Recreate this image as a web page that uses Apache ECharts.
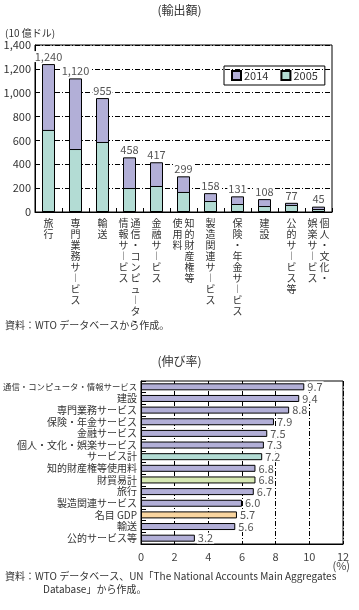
<!DOCTYPE html>
<html><head><meta charset="utf-8">
<script src="https://cdn.jsdelivr.net/npm/echarts@6/dist/echarts.min.js"></script>
<style>html,body{margin:0;padding:0;background:#fff}#c{width:359px;height:610px}</style>
</head><body><div id="c"></div>
<script>
// ---- Data: exports (billion USD) ----
const exportCategories = ["旅行","専門業務サービス","輸送","通信・コンピュータ・情報サービス","金融サービス","知的財産権等使用料","製造関連サービス","保険・年金サービス","建設","公的サービス等","個人・文化・娯楽サービス"];
const exports2014 = [1240,1120,955,458,417,299,158,131,108,77,45];
const exports2005 = [688,528,587,201,218,168,92,67,50,59,25];
const exportTicks = [0,200,400,600,800,1000,1200,1400];
// column splits for two-column vertical labels (right column first)
const labelSplits = {"通信・コンピュータ・情報サービス":10,"知的財産権等使用料":6,"個人・文化・娯楽サービス":6};

// ---- Data: growth rate (%) ----
const growthCategories = ["通信・コンピュータ・情報サービス","建設","専門業務サービス","保険・年金サービス","金融サービス","個人・文化・娯楽サービス","サービス計","知的財産権等使用料","財貿易計","旅行","製造関連サービス","名目 GDP","輸送","公的サービス等"];
const growthValues = [9.7,9.4,8.8,7.9,7.5,7.3,7.2,6.8,6.8,6.7,6.0,5.7,5.6,3.2];
const growthTicks = [0,2,4,6,8,10,12];

const C14 = '#b2afd7', C05 = '#b3dcd4', CSV = '#b3dcd4', CGOODS = '#d7e9b4', CGDP = '#f9d59f';
const FF = '"Noto Sans CJK JP","Noto Sans",sans-serif';
const growthColors = growthCategories.map(c => c === 'サービス計' ? CSV : c === '財貿易計' ? CGOODS : c === '名目 GDP' ? CGDP : C14);
const dashDot = [5,2,1,2];

function vert(s){ return s.replace(/ー/g,'︱'); }
function verticalLabel(name){
  const sp = labelSplits[name];
  if (sp === undefined) return Array.from(vert(name)).join('\n');
  const right = Array.from(vert(name.slice(0,sp)));
  const left = Array.from(vert(name.slice(sp)));
  const n = Math.max(right.length,left.length);
  const lines = [];
  for (let i=0;i<n;i++) lines.push((left[i]||'　') + ' ' + (right[i]||'　'));
  return lines.join('\n');
}

const chart = echarts.init(document.getElementById('c'));
chart.setOption({
  animation:false,
  textStyle:{fontFamily:FF},
  grid:[
    {left:35,right:27,top:45,height:167,show:true,borderColor:'#000',borderWidth:1,containLabel:false,outerBoundsMode:'none'},
    {left:141,right:16,top:381,height:163,show:true,borderColor:'#000',borderWidth:1,containLabel:false,outerBoundsMode:'none'}
  ],
  legend:{
    left:224,top:66,
    data:['2014','2005'],orient:'horizontal',
    borderColor:'#000',borderWidth:1,padding:[4,7],itemGap:12,
    icon:'rect',itemWidth:9,itemHeight:9,
    textStyle:{fontSize:11,color:'#333',fontFamily:FF,padding:[0,0,0,-2]}
  },
  xAxis:[
    {type:'category',gridIndex:0,data:exportCategories,
     axisLine:{lineStyle:{color:'#000'}},
     axisTick:{show:true,inside:true,length:4,lineStyle:{color:'#000'}},
     axisLabel:{interval:0,formatter:verticalLabel,fontSize:10,lineHeight:11,color:'#333',margin:6,verticalAlign:'top',fontFamily:FF}},
    {type:'value',gridIndex:1,min:0,max:12,interval:2,
     axisLine:{show:true,lineStyle:{color:'#000'}},axisTick:{show:false},
     splitLine:{show:true,lineStyle:{color:'#000',type:dashDot}},
     axisLabel:{fontSize:11,color:'#444',margin:7,fontFamily:FF,
       formatter:v=>growthTicks.includes(v)?String(v):''}}
  ],
  yAxis:[
    {type:'value',gridIndex:0,min:0,max:1400,interval:200,
     axisLine:{show:true,lineStyle:{color:'#000'}},axisTick:{show:false},
     splitLine:{show:true,lineStyle:{color:'#000',type:dashDot}},
     axisLabel:{fontSize:11,color:'#333',margin:4,fontFamily:FF,
       formatter:v=>exportTicks.includes(v)?v.toLocaleString('en-US'):''}},
    {type:'category',gridIndex:1,data:growthCategories,inverse:true,
     axisLine:{lineStyle:{color:'#000'}},
     axisTick:{show:true,inside:true,length:5,lineStyle:{color:'#000'}},
     axisLabel:{interval:0,fontSize:10,color:'#333',margin:4,fontFamily:FF,
       formatter:v=>v.length>12?'{s|'+v+'}':v,
       rich:{s:{fontSize:8.4,color:'#333',fontFamily:FF}}}}
  ],
  series:[
    {name:'2014',type:'bar',xAxisIndex:0,yAxisIndex:0,data:exports2014,barWidth:13,barGap:'-100%',
     itemStyle:{color:C14,borderColor:'#000',borderWidth:1},
     label:{show:true,position:'top',distance:2,fontSize:11,color:'#555',fontFamily:FF,
       backgroundColor:'#fff',padding:[0,1],
       formatter:p=>p.value.toLocaleString('en-US')}},
    {name:'2005',type:'bar',xAxisIndex:0,yAxisIndex:0,data:exports2005,barWidth:13,barGap:'-100%',
     itemStyle:{color:C05,borderColor:'#000',borderWidth:1}},
    {name:'growth',type:'bar',xAxisIndex:1,yAxisIndex:1,barWidth:7,
     data:growthValues.map((v,i)=>({value:v,itemStyle:{color:growthColors[i]}})),
     itemStyle:{borderColor:'#000',borderWidth:1},
     label:{show:true,position:'right',distance:2,fontSize:11,color:'#555',fontFamily:FF,
       backgroundColor:'#fff',padding:[0,1],
       formatter:p=>p.value.toFixed(1)}}
  ],
  graphic:[
    {type:'text',left:'center',top:4,style:{text:'(輸出額)',fontSize:12,fill:'#333',fontFamily:FF}},
    {type:'text',left:5,top:28,style:{text:'(10 億ドル)',fontSize:10,fill:'#333',fontFamily:FF}},
    {type:'text',left:5,top:320,style:{text:'資料：WTO データベースから作成。',fontSize:10,fill:'#333',fontFamily:FF}},
    {type:'text',left:'center',top:355,style:{text:'(伸び率)',fontSize:12,fill:'#333',fontFamily:FF}},
    {type:'text',right:9,top:560,style:{text:'(%)',fontSize:11,fill:'#444',fontFamily:FF}},
    {type:'text',left:5,top:571,style:{text:'資料：WTO データベース、UN「The National Accounts Main Aggregates',fontSize:10,fill:'#333',fontFamily:FF}},
    {type:'text',left:43,top:584,style:{text:'Database」から作成。',fontSize:10,fill:'#333',fontFamily:FF}}
  ]
});
</script></body></html>
